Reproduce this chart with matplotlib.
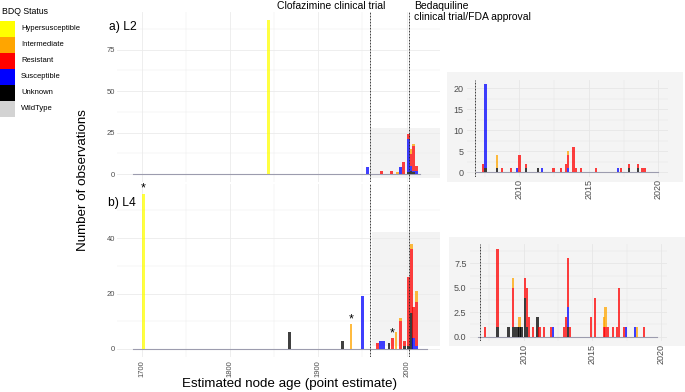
import matplotlib
matplotlib.use('Agg')
import matplotlib.pyplot as plt
import numpy as np
from matplotlib.patches import Rectangle

plt.rcParams['font.family'] = ['Liberation Sans', 'DejaVu Sans']

# ---------------- data ----------------
categories = ['Hypersusceptible', 'Intermediate', 'Resistant', 'Susceptible', 'Unknown', 'WildType']
cat_colors = ['#FFFF00', '#FFA500', '#FF0000', '#0000FF', '#000000', '#D3D3D3']

# a) L2, main panel
l2_year = [1844, 1955.5, 1972, 1983, 1989.5, 1993, 1996.3, 2002, 2005, 2008, 2011]
l2_hyper = [93, 0, 0, 0, 0, 0, 0, 0, 0, 0, 0]
l2_inter = [0, 0, 0, 0, 1, 0, 0, 0, 3, 1, 0]
l2_resist = [0, 0, 2, 2, 0, 0, 7, 3, 7, 15, 3]
l2_suscep = [0, 4, 0, 0, 0, 4, 0, 20, 3, 1, 2]
l2_unknown = [0, 0, 0, 0, 0, 0, 0, 1, 2, 1, 0]

# b) L4, main panel
l4_year = [1702, 1867.5, 1927, 1937, 1950, 1967, 1970.5, 1974, 1980, 1983.5, 1988, 1993.3, 1998, 2002.3, 2005.3, 2008, 2011]
l4_hyper = [56, 0, 0, 0, 0, 0, 0, 0, 0, 0, 0, 0, 0, 0, 0, 0, 0]
l4_inter = [0, 0, 0, 9, 0, 0, 0, 0, 0, 0, 6, 1, 0, 0, 2, 0, 4]
l4_resist = [0, 0, 0, 0, 0, 2, 0, 0, 0, 4, 0, 10, 2, 25, 23, 11, 16]
l4_suscep = [0, 0, 0, 0, 19, 0, 3, 3, 0, 0, 0, 0, 0, 0, 0, 4, 1]
l4_unknown = [0, 6, 3, 0, 0, 0, 0, 0, 2, 0, 0, 0, 1, 1, 13, 0, 0]
l4_star_years = [1702, 1937, 1983.5]

# L2 zoomed inset
l2z_year = [2007.35, 2007.55, 2008.4, 2008.75, 2009.4, 2009.8, 2010.0, 2010.45, 2011.35, 2011.6,
            2012.45, 2013.0, 2013.35, 2013.5, 2013.9, 2014.05, 2014.45, 2015.5, 2017.1, 2017.3,
            2017.9, 2018.55, 2018.8, 2019.0]
l2z_inter = [0, 0, 3, 0, 0, 0, 0, 0, 0, 0,
             0, 0, 0, 1, 0, 0, 0, 0, 0, 0,
             0, 0, 0, 0]
l2z_resist = [2, 0, 0, 1, 1, 0, 4, 1, 0, 0,
              1, 1, 2, 3, 6, 1, 1, 1, 0, 1,
              1, 1, 1, 1]
l2z_suscep = [0, 20, 0, 0, 0, 1, 0, 0, 0, 1,
              0, 0, 0, 1, 0, 0, 0, 0, 1, 0,
              0, 0, 0, 0]
l2z_unknown = [0, 1, 1, 0, 0, 0, 0, 1, 1, 0,
               0, 0, 0, 0, 0, 0, 0, 0, 0, 0,
               1, 1, 0, 0]

# L4 zoomed inset
l4z_year = [2007.2, 2008.1, 2008.9, 2009.2, 2009.4, 2009.55, 2009.7, 2009.85, 2010.1, 2010.25,
            2010.4, 2010.7, 2011.0, 2011.15, 2011.5, 2012.0, 2012.15, 2012.95, 2013.1, 2013.2,
            2013.35, 2014.9, 2015.2, 2015.85, 2015.95, 2016.15, 2016.5, 2016.8, 2016.95, 2017.3,
            2017.45, 2018.1, 2018.25, 2018.75]
l4z_inter = [0, 0, 0, 1, 0, 0, 1, 0, 0, 0,
             0, 0, 0, 0, 0, 0, 0, 0, 0, 0,
             0, 0, 0, 1, 2, 0, 0, 0, 0, 0,
             0, 0, 1, 0]
l4z_resist = [1, 8, 0, 4, 0, 0, 0, 0, 2, 4,
              2, 1, 0, 1, 1, 1, 0, 1, 2, 5,
              1, 2, 4, 1, 1, 1, 1, 1, 5, 1,
              0, 0, 0, 1]
l4z_suscep = [0, 0, 0, 0, 0, 0, 0, 0, 0, 0,
              0, 0, 0, 0, 0, 0, 1, 0, 0, 2,
              0, 0, 0, 0, 0, 0, 0, 0, 0, 0,
              1, 1, 0, 0]
l4z_unknown = [0, 1, 1, 1, 1, 1, 1, 1, 4, 1,
               0, 0, 2, 0, 0, 0, 0, 0, 0, 1,
               0, 0, 0, 0, 0, 0, 0, 0, 0, 0,
               0, 0, 0, 0]

clofazimine_year = 1959
bedaquiline_year_main = 2003
bedaquiline_year_inset = 2006.8

# ---------------- figure ----------------
W, H = 685, 392
fig = plt.figure(figsize=(6.85, 3.92), dpi=100)


def box(x0, y0, x1, y1):
    return [x0 / W, 1 - y1 / H, (x1 - x0) / W, (y1 - y0) / H]


def fx(x):
    return x / W


def fy(y):
    return 1 - y / H


color_map = dict(zip(categories, cat_colors))
stack_order = ['WildType', 'Unknown', 'Susceptible', 'Resistant', 'Intermediate', 'Hypersusceptible']


def draw_bars(ax, years, counts, width):
    n = len(years)
    bottom = np.zeros(n)
    for cat in stack_order:
        vals = np.asarray(counts.get(cat, [0] * n), float)
        if vals.sum() > 0:
            ax.bar(years, vals, width=width, bottom=bottom, color=color_map[cat],
                   alpha=0.75, linewidth=0, zorder=3)
        bottom = bottom + vals
    return bottom


TICK_C = '#4D4D4D'
GRID_C = '#EBEBEB'
DASH = (0, (2.2, 1.4))


def style_axes(ax, xmaj, xmin, ymaj, ymin, grid_c=GRID_C):
    ax.set_xticks(xmaj)
    ax.set_xticks(xmin, minor=True)
    ax.set_yticks(ymaj)
    ax.set_yticks(ymin, minor=True)
    ax.grid(True, which='major', color=grid_c, lw=0.6)
    ax.grid(True, which='minor', color=grid_c, lw=0.35)
    ax.set_axisbelow(True)
    for s in ax.spines.values():
        s.set_visible(False)
    ax.tick_params(which='both', length=0)
    ax.set_facecolor('none')


# ---- inset backgrounds (behind everything) ----
fig.patches.append(Rectangle((fx(447), fy(182)), (683 - 447) / W, (182 - 72) / H,
                             transform=fig.transFigure, facecolor='#F4F4F4',
                             edgecolor='none', zorder=-5))
fig.patches.append(Rectangle((fx(449), fy(346)), (685 - 449) / W, (346 - 236.5) / H,
                             transform=fig.transFigure, facecolor='#F4F4F4',
                             edgecolor='none', zorder=-5))

# ---- main panel a) L2 ----
ax1 = fig.add_axes(box(117, 12, 440, 182))
ax1.set_xlim(1672, 2037.8)
ax1.set_ylim(-4.8, 97.8)
style_axes(ax1, [1700, 1800, 1900, 2000], [1750, 1850, 1950], [0, 25, 50, 75], [12.5, 37.5, 62.5, 87.5])
ax1.add_patch(Rectangle((clofazimine_year, -2.4), 2037.8 - clofazimine_year, 30,
                        facecolor='#F3F3F3', edgecolor='none', zorder=0.2))
ax1.plot([1690, 2015.5], [0, 0], color='#9C9CAE', lw=0.8, zorder=2.5)
draw_bars(ax1, l2_year, {'Hypersusceptible': l2_hyper, 'Intermediate': l2_inter,
                         'Resistant': l2_resist, 'Susceptible': l2_suscep,
                         'Unknown': l2_unknown}, 3.3)
ax1.tick_params(axis='x', labelbottom=False)
ax1.tick_params(axis='y', labelsize=5.5, labelcolor=TICK_C, pad=1.5)
for xv in (clofazimine_year, bedaquiline_year_main):
    ax1.axvline(xv, color='#222222', lw=0.6, ls=DASH, zorder=4)

# ---- main panel b) L4 ----
ax2 = fig.add_axes(box(117, 184, 440, 357))
ax2.set_xlim(1672, 2037.8)
ax2.set_ylim(-2.9, 59.5)
style_axes(ax2, [1700, 1800, 1900, 2000], [1750, 1850, 1950], [0, 20, 40], [10, 30, 50])
ax2.add_patch(Rectangle((1961, 1), 2037.8 - 1961, 41.3,
                        facecolor='#F3F3F3', edgecolor='none', zorder=0.2))
ax2.plot([1690, 2023], [0, 0], color='#9C9CAE', lw=0.8, zorder=2.5)
tot4 = draw_bars(ax2, l4_year, {'Hypersusceptible': l4_hyper, 'Intermediate': l4_inter,
                                'Resistant': l4_resist, 'Susceptible': l4_suscep,
                                'Unknown': l4_unknown}, 3.3)
ax2.tick_params(axis='y', labelsize=5.5, labelcolor=TICK_C, pad=1.5)
ax2.tick_params(axis='x', labelsize=5.5, labelcolor=TICK_C, pad=2.5, labelrotation=90)
for xv in (clofazimine_year, bedaquiline_year_main):
    ax2.axvline(xv, color='#222222', lw=0.6, ls=DASH, zorder=4)
for sy in l4_star_years:
    top = tot4[l4_year.index(sy)]
    ax2.annotate('*', xy=(sy, top + 3.3), xytext=(0, -5.2), textcoords='offset points',
                 ha='center', va='baseline', fontsize=9, color='black',
                 annotation_clip=False, zorder=5)

# ---- inset L2 ----
ax3 = fig.add_axes(box(466.7, 79.7, 668, 176.7))
ax3.set_xlim(2006.2, 2020.7)
ax3.set_ylim(-1.05, 22.05)
style_axes(ax3, [2010, 2015, 2020], [2007.5, 2012.5, 2017.5], [0, 5, 10, 15, 20],
           [2.5, 7.5, 12.5, 17.5], grid_c='#E6E6E6')
ax3.plot([2006.9, 2019.96], [0, 0], color='#9C9CAE', lw=0.8, zorder=2.5)
draw_bars(ax3, l2z_year, {'Intermediate': l2z_inter, 'Resistant': l2z_resist,
                          'Susceptible': l2z_suscep, 'Unknown': l2z_unknown}, 0.16)
ax3.axvline(bedaquiline_year_inset, color='#222222', lw=0.6, ls=DASH, zorder=4)
ax3.tick_params(axis='y', labelsize=6.5, labelcolor=TICK_C, pad=2.5)
ax3.tick_params(axis='x', labelsize=6.5, labelcolor=TICK_C, pad=1.5, labelrotation=90)

# ---- inset L4 ----
ax4 = fig.add_axes(box(470, 244.2, 666.7, 341.1))
ax4.set_xlim(2006.1, 2020.4)
ax4.set_ylim(-0.45, 9.45)
style_axes(ax4, [2010, 2015, 2020], [2007.5, 2012.5, 2017.5], [0, 2.5, 5, 7.5],
           [1.25, 3.75, 6.25, 8.75], grid_c='#E6E6E6')
ax4.set_yticklabels(['0.0', '2.5', '5.0', '7.5'])
ax4.plot([2006.7, 2019.7], [0, 0], color='#9C9CAE', lw=0.8, zorder=2.5)
draw_bars(ax4, l4z_year, {'Intermediate': l4z_inter, 'Resistant': l4z_resist,
                          'Susceptible': l4z_suscep, 'Unknown': l4z_unknown}, 0.16)
ax4.axvline(bedaquiline_year_inset, color='#222222', lw=0.6, ls=DASH, zorder=4)
ax4.tick_params(axis='y', labelsize=6.5, labelcolor=TICK_C, pad=2.5)
ax4.tick_params(axis='x', labelsize=6.5, labelcolor=TICK_C, pad=2, labelrotation=90)

# ---- texts ----
fig.text(fx(330.7), fy(9.3), 'Clofazimine clinical trial', ha='center', va='baseline', fontsize=7.5)
fig.text(fx(414), fy(9.3), 'Bedaquiline', ha='left', va='baseline', fontsize=7.5)
fig.text(fx(414), fy(20.3), 'clinical trial/FDA approval', ha='left', va='baseline', fontsize=7.5)
fig.text(fx(109), fy(27), 'a) L2', ha='left', va='center', fontsize=8.7)
fig.text(fx(108), fy(203), 'b) L4', ha='left', va='center', fontsize=8.7)
fig.text(fx(290), fy(384), 'Estimated node age (point estimate)', ha='center', va='center', fontsize=9.6)
fig.text(fx(83), fy(180), 'Number of observations', ha='center', va='center', rotation=90, fontsize=9.6)

# ---- legend ----
fig.text(fx(2), fy(12), 'BDQ Status', ha='left', va='center', fontsize=6.3)
for i, (cat, col) in enumerate(zip(categories, cat_colors)):
    y0 = 20.7 + i * 16
    fig.patches.append(Rectangle((fx(0), fy(y0 + 16)), 15 / W, 16 / H, transform=fig.transFigure,
                                 facecolor=col, edgecolor='none'))
    fig.text(fx(21), fy(y0 + 8), cat, ha='left', va='center', fontsize=5.5)

fig.savefig('out.png', dpi=100)
